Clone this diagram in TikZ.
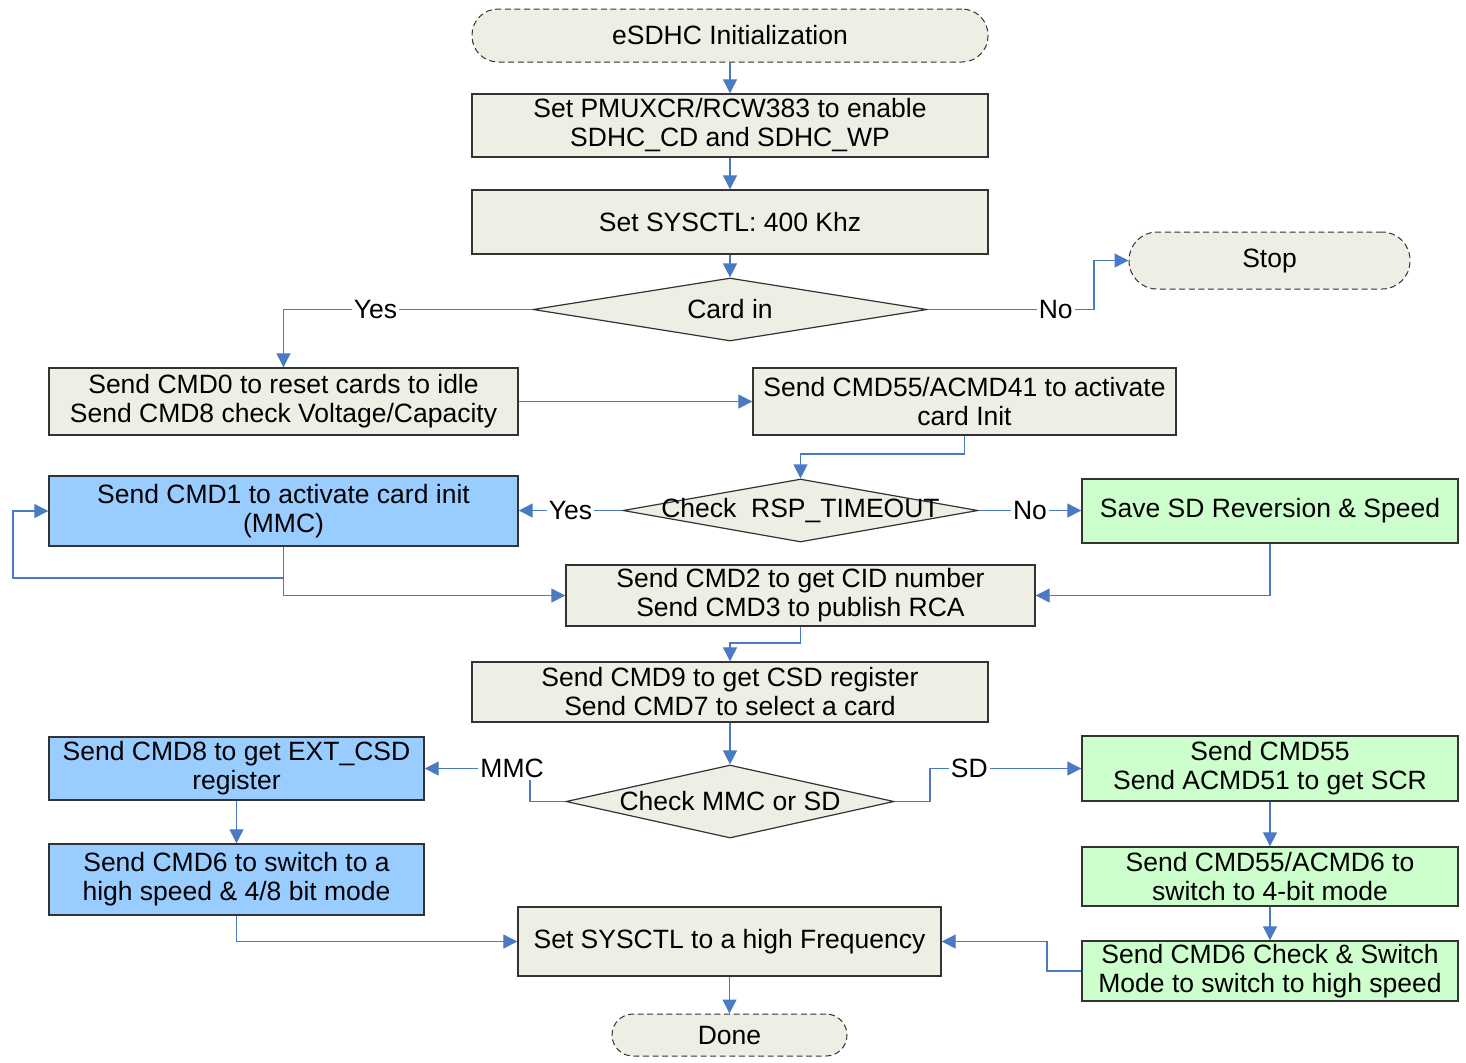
\documentclass[tikz,border=0pt]{standalone}
\usepackage{fontspec}
\setmainfont{Liberation Sans}
\usetikzlibrary{arrows.meta,shapes.geometric}
\definecolor{boxgray}{RGB}{238,238,228}
\definecolor{boxblue}{RGB}{153,204,255}
\definecolor{boxgreen}{RGB}{204,255,204}
\definecolor{linkblue}{RGB}{74,122,195}
\begin{document}
\begin{tikzpicture}[x=0.5pt,y=-0.5pt,
  font=\fontsize{13.25pt}{14.5pt}\selectfont,
  box/.style={draw=black!80, line width=0.7pt, fill=boxgray, align=center, inner sep=0pt},
  bluebox/.style={box, fill=boxblue},
  greenbox/.style={box, fill=boxgreen},
  term/.style={box, dash pattern=on 3pt off 1.8pt, line width=0.5pt},
  dia/.style={draw=black!80, line width=0.6pt, fill=boxgray, shape=diamond, inner sep=0pt},
  link/.style={draw=linkblue, line width=0.6pt, -{Triangle[length=7pt,width=7pt]}},
  lbl/.style={fill=white, inner sep=1pt}]
\useasboundingbox (0,0) rectangle (1466,1062);

% nodes
\node[term, rounded corners=13pt, minimum width=258pt, minimum height=26.5pt] (start) at (730,35.5) {eSDHC Initialization};
\node[box, minimum width=258pt, minimum height=31.5pt] (b1) at (730,125.5) {Set PMUXCR/RCW383 to enable\\SDHC\_CD and SDHC\_WP};
\node[box, minimum width=258pt, minimum height=32pt] (b2) at (730,222) {Set SYSCTL: 400 Khz};
\node[dia, minimum width=197pt, minimum height=31.5pt, label=center:{Card in}] (d1) at (730,309.5) {};
\node[term, rounded corners=14pt, minimum width=140.5pt, minimum height=28.5pt] (stop) at (1269.5,260.5) {Stop};
\node[box, minimum width=234.5pt, minimum height=33.5pt] (b4) at (283.5,401.5) {Send CMD0 to reset cards to idle\\Send CMD8 check Voltage/Capacity};
\node[box, minimum width=211.5pt, minimum height=33.5pt] (b7) at (964.5,401.5) {Send CMD55/ACMD41 to activate\\card Init};
\node[dia, minimum width=177.5pt, minimum height=31.5pt, label=center:{Check\ \ RSP\_TIMEOUT}] (d2) at (800.5,510.5) {};
\node[bluebox, minimum width=234.5pt, minimum height=35pt] (b9) at (283.5,511) {Send CMD1 to activate card init\\(MMC)};
\node[greenbox, minimum width=188pt, minimum height=32pt] (b10) at (1270,511) {Save SD Reversion \& Speed};
\node[box, minimum width=234.5pt, minimum height=30.5pt] (b11) at (800.5,595.5) {Send CMD2 to get CID number\\Send CMD3 to publish RCA};
\node[box, minimum width=258pt, minimum height=30pt] (b12) at (730,692) {Send CMD9 to get CSD register\\Send CMD7 to select a card};
\node[dia, minimum width=164pt, minimum height=36.5pt, label=center:{Check MMC or SD}] (d3) at (730,801.5) {};
\node[bluebox, minimum width=187.5pt, minimum height=31.5pt] (b14) at (236.5,768.5) {Send CMD8 to get EXT\_CSD\\register};
\node[bluebox, minimum width=187.5pt, minimum height=35.5pt] (b15) at (236.5,879.5) {Send CMD6 to switch to a\\high speed \& 4/8 bit mode};
\node[greenbox, minimum width=188pt, minimum height=32.5pt] (b16) at (1270,768.5) {Send CMD55\\Send ACMD51 to get SCR};
\node[greenbox, minimum width=188pt, minimum height=29.5pt] (b17) at (1270,876.5) {Send CMD55/ACMD6 to\\switch to 4-bit mode};
\node[greenbox, minimum width=188pt, minimum height=30pt] (b18) at (1270,971) {Send CMD6 Check \& Switch\\Mode to switch to high speed};
\node[box, minimum width=211.5pt, minimum height=34.5pt] (b19) at (729.5,941.5) {Set SYSCTL to a high Frequency};
\node[term, rounded corners=10.5pt, minimum width=117.5pt, minimum height=21pt] (done) at (729.5,1035) {Done};

% connectors
\draw[link] (start) -- (b1);
\draw[link] (b1) -- (b2);
\draw[link] (b2) -- (d1);
\draw[link] (d1.west) -| node[lbl, pos=0.315] (yes1) {Yes} (b4.north);
\draw[link] (d1.east) -- node[lbl, pos=0.77] (no1) {No} (1094,309.5) |- (stop.west);
\draw[link] (b4.east) -- (b7.west);
\draw[link] (b7.south) -- (964.5,454) -| (d2.north);
\draw[link] (d2.west) -- node[lbl, pos=0.5] (yes2) {Yes} (b9.east |- d2.west);
\draw[link] (d2.east) -- node[lbl, pos=0.5] (no2) {No} (b10.west |- d2.east);
\draw[link] (b9.south) |- (13,578) |- (b9.west);
\draw[link] (b9.south) |- (b11.west);
\draw[link] (b10.south) |- (b11.east);
\draw[link] (b11.south) -- (800.5,643) -| (b12.north);
\draw[link] (b12) -- (d3);
\draw[link] (d3.west) -- (530,801.5) |- node[lbl, pos=0.585] (mmc) {MMC} (b14.east);
\draw[link] (d3.east) -- (930,801.5) |- node[lbl, pos=0.63] (sd) {SD} (b16.west);
\draw[link] (b14) -- (b15);
\draw[link] (b16) -- (b17);
\draw[link] (b17) -- (b18);
\draw[link] (b18.west) -- (1047,971) |- (b19.east);
\draw[link] (b15.south) |- (b19.west);
\draw[link] (b19) -- (done);
\end{tikzpicture}
\end{document}
